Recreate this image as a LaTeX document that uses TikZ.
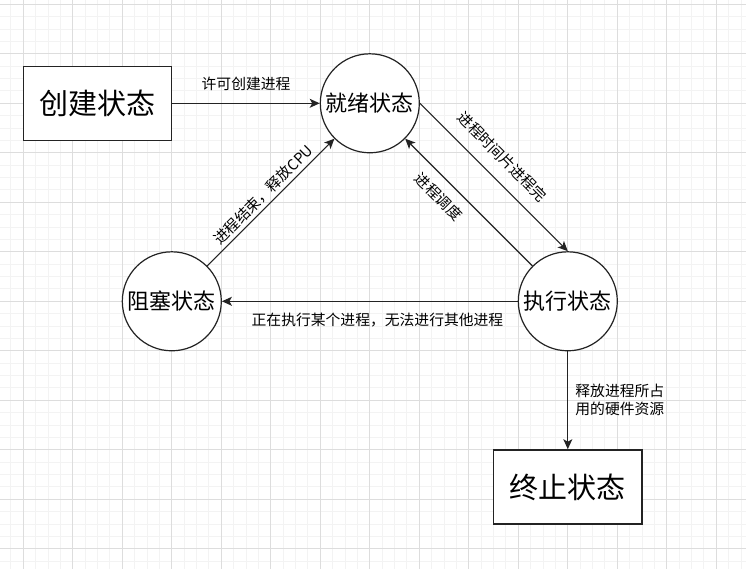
\documentclass[tikz,border=0pt]{standalone}
\usepackage{fontspec}
\newfontfamily\cjk{Noto Sans CJK SC}
\usetikzlibrary{arrows.meta}
\definecolor{cGridMinor}{RGB}{243,243,243}
\definecolor{cGridMajor}{RGB}{221,221,221}
\definecolor{cLine}{RGB}{35,35,35}
\tikzset{
	statebox/.style ={rectangle, draw=cLine, fill=white, line width=1.3pt, minimum width=148.5pt, minimum height=74.25pt, inner sep=0pt, font=\cjk\fontsize{29}{34}\selectfont},
	statecirc/.style={circle, draw=cLine, fill=white, line width=1.2pt, minimum size=99pt, inner sep=0pt, font=\cjk\fontsize{22}{26}\selectfont},
	trans/.style    ={-{Stealth[length=10pt, width=9pt, inset=2.5pt]}, line width=1.2pt, cLine},
	lbl/.style      ={font=\cjk\fontsize{14.8}{18}\selectfont, text=black, inner sep=0pt},
	% background grid
	gridminor/.style={cGridMinor, line width=0.9pt},
	gridmajor/.style={cGridMajor, line width=0.9pt},
}

\begin{document}
\begin{tikzpicture}[x=1pt, y=-1pt]
	\useasboundingbox (0,0) rectangle (746,569);
	\fill[white] (0,0) rectangle (746,569);
	% grid
	\foreach \x in {10.925,23.3,...,746} \draw[gridminor] (\x,0) -- (\x,569);
	\foreach \y in {4.3,16.675,...,569} \draw[gridminor] (0,\y) -- (746,\y);
	\foreach \x in {23.3,72.8,...,746} \draw[gridmajor] (\x,0) -- (\x,569);
	\foreach \y in {4.3,53.8,...,569} \draw[gridmajor] (0,\y) -- (746,\y);

	% states
	\node[statebox]  (create) at (97.55,103.3)  {创建状态};
	\node[statecirc] (ready)  at (369.8,103.3)  {就绪状态};
	\node[statecirc] (block)  at (171.8,301.3)  {阻塞状态};
	\node[statecirc] (run)    at (567.8,301.3)  {执行状态};
	\node[statebox]  (stop)   at (567.8,487)    {终止状态};

	% transitions
	\draw[trans] (create) -- node[lbl, midway, above=12pt] {许可创建进程} (ready);
	\draw[trans] (ready.east) -- node[lbl, pos=0.46, sloped, above=13pt] {进程时间片进程完} (run.north);
	\draw[trans] (run.135) -- node[lbl, pos=0.64, sloped, below=10pt] {进程调度} (ready.-45);
	\draw[trans] (run) -- node[lbl, pos=0.474, below=11pt] {正在执行某个进程，无法进行其他进程} (block);
	\draw[trans] (block.45) -- node[lbl, midway, sloped, above=3pt] {进程结束，释放CPU} (ready.225);
	\draw[trans] (run) -- node[lbl, midway, right=7pt, align=left] {释放进程所占\\用的硬件资源} (stop);
\end{tikzpicture}
\end{document}
